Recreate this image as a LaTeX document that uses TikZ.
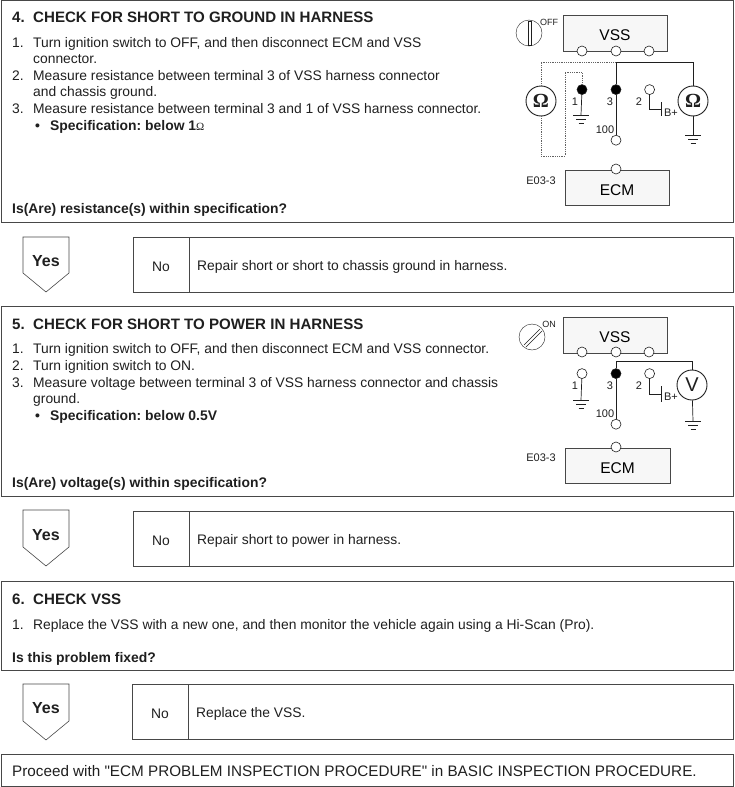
\documentclass[tikz,border=0pt]{standalone}
\usepackage{fontspec}
\setmainfont{Liberation Sans}
\newfontfamily\omegafont{Liberation Serif}
\newfontfamily\plainfont{Liberation Sans}
\frenchspacing
\usetikzlibrary{positioning,calc}
\definecolor{ink}{gray}{0.12}
\definecolor{edge}{gray}{0.28}
\newcommand{\unitname}[1]{\raisebox{-7.5pt}[0pt][0pt]{#1}}
\begin{document}
\begin{tikzpicture}[x=1pt,y=-1pt,font=\fontsize{13.85}{15}\selectfont,text=ink,
  panel/.style={draw=edge,line width=0.8pt},
  body/.style={anchor=base west,inner sep=0pt},
  head/.style={body,font=\fontsize{15.1}{17}\selectfont\bfseries},
  ask/.style={body,font=\fontsize{13.9}{15}\selectfont\bfseries},
  yes/.style={font=\fontsize{16}{17}\selectfont\bfseries,inner sep=0pt},
  unit/.style={draw=edge,fill=gray!6,line width=0.8pt,minimum width=104pt,minimum height=36pt,inner sep=0pt,text=black,font=\fontsize{15.5}{16}\selectfont},
  pin/.style={circle,draw=ink,fill=white,line width=0.6pt,minimum size=10pt,inner sep=0pt},
  dotpin/.style={pin,fill=black},
  meter/.style={circle,draw=ink,fill=white,line width=0.9pt,minimum size=30pt,inner sep=0pt,font=\fontsize{20}{21}\selectfont},
  tiny/.style={inner sep=0pt,font=\fontsize{11}{12}\selectfont},
  wire/.style={draw=ink,line width=0.7pt},
  probe/.style={draw=ink!70,line width=0.8pt,densely dotted},
  ground/.pic={\draw[wire] (-8,0)--(8,0) (-5,4)--(5,4) (-2.5,8)--(2.5,8);}]
\useasboundingbox (0,0) rectangle (734,787);
% outer boxes
\draw[panel] (1,0) rectangle (733,222);
\draw[panel] (1,306) rectangle (733,496);
\draw[panel] (1,581) rectangle (733,670);
\draw[panel] (1,754) rectangle (733,786);
% step 4
\node[head] (h4a) at (12,22) {4.};
\node[head] (h4b) at (33,22) {CHECK FOR SHORT TO GROUND IN HARNESS};
\node[body] (n4a) at (12,47) {1.};
\node[body] (t4a) at (33,47) {Turn ignition switch to OFF, and then disconnect ECM and VSS};
\node[body] (t4b) at (33,63) {connector.};
\node[body] (n4c) at (12,80) {2.};
\node[body] (t4c) at (33,80) {Measure resistance between terminal 3 of VSS harness connector};
\node[body] (t4d) at (33,96) {and chassis ground.};
\node[body] (n4e) at (12,113) {3.};
\node[body] (t4e) at (33,113) {Measure resistance between terminal 3 and 1 of VSS harness connector.};
\node[ask] (b4) at (35,130) {\textbullet};
\node[ask] (s4) at (50,130) {Specification: below 1{\omegafont\fontsize{11}{12}\selectfont\mdseries Ω}};
\node[ask] (q4) at (12,213) {Is(Are) resistance(s) within specification?};
% answer row 4
\draw[panel,line width=0.6pt] (23,237)--(69,237)--(69,273)--(46,292)--(23,273)--cycle;
\node[yes] (y4) at (46,261) {Yes};
\draw[panel,line width=0.6pt] (133,237) rectangle (733,292) (189,237)--(189,292);
\node[inner sep=0pt] (no4) at (161,267) {No};
\node[body] (r4) at (197,270) {Repair short or short to chassis ground in harness.};
% step 5
\node[head] (h5a) at (12,329) {5.};
\node[head] (h5b) at (33,329) {CHECK FOR SHORT TO POWER IN HARNESS};
\node[body] (n5a) at (12,353) {1.};
\node[body] (t5a) at (33,353) {Turn ignition switch to OFF, and then disconnect ECM and VSS connector.};
\node[body] (n5b) at (12,370) {2.};
\node[body] (t5b) at (33,370) {Turn ignition switch to ON.};
\node[body] (n5c) at (12,387) {3.};
\node[body] (t5c) at (33,387) {Measure voltage between terminal 3 of VSS harness connector and chassis};
\node[body] (t5d) at (33,403) {ground.};
\node[ask] (b5) at (35,420) {\textbullet};
\node[ask] (s5) at (50,420) {Specification: below 0.5V};
\node[ask] (q5) at (12,487) {Is(Are) voltage(s) within specification?};
% answer row 5
\draw[panel,line width=0.6pt] (23,510)--(69,510)--(69,547)--(46,566)--(23,547)--cycle;
\node[yes] (y5) at (46,535) {Yes};
\draw[panel,line width=0.6pt] (133,511) rectangle (733,566) (189,511)--(189,566);
\node[inner sep=0pt] (no5) at (161,541) {No};
\node[body] (r5) at (197,544) {Repair short to power in harness.};
% step 6
\node[head] (h6a) at (12,604) {6.};
\node[head] (h6b) at (33,604) {CHECK VSS};
\node[body] (n6a) at (12,629) {1.};
\node[body] (t6a) at (33,629) {Replace the VSS with a new one, and then monitor the vehicle again using a Hi-Scan (Pro).};
\node[ask] (q6) at (12,662) {Is this problem fixed?};
% answer row 6
\draw[panel,line width=0.6pt] (23,684)--(69,684)--(69,721)--(46,740)--(23,721)--cycle;
\node[yes] (y6) at (46,708) {Yes};
\draw[panel,line width=0.6pt] (132,684) rectangle (733,739) (188,684)--(188,739);
\node[inner sep=0pt] (no6) at (160,714) {No};
\node[body] (r6) at (196,717) {Replace the VSS.};
\node[body,font=\fontsize{15.25}{17}\selectfont\plainfont] (end) at (12,776) {Proceed with "ECM PROBLEM INSPECTION PROCEDURE" in BASIC INSPECTION PROCEDURE.};
% wiring for step 4
\node[unit] (vss4) at (615,33) {\unitname{VSS}};
\node[unit,minimum height=35pt] (ecm4) at (617,188) {\unitname{ECM}};
\node[pin] (a4) at (582,51) {};
\node[pin] (c4) at (616,51) {};
\node[pin] (e4) at (649,51) {};
\node[dotpin,below=28pt of c4] (k3) {};
\node[dotpin] (k1) at (k3-|a4) {};
\node[pin,right=23pt of k3] (k2) {};
\node[pin,below=40pt of k3] (k100) {};
\node[pin] (ke) at (616,169) {};
\node[meter] (ml) at (541,101) {\omegafont\bfseries Ω};
\node[meter] (mr) at (693,101) {\omegafont\bfseries Ω};
\node[tiny] (l1) at (575,102) {1};
\node[tiny] (l3) at (610,102) {3};
\node[tiny] (l2) at (639,102) {2};
\node[tiny] (l100) at (605,130) {100};
\node[tiny,font=\fontsize{9}{10}\selectfont] (off) at (549,22) {OFF};
\node[tiny] (tag4) at (541,181) {E03-3};
\node[tiny] (bp4) at (671,113) {B+};
\coordinate (g1) at (581,115);
\coordinate (g4) at (693,135);
\coordinate (t4) at (661,109);
\draw[wire] (k1)--(g1);
\pic at (g1) {ground};
\draw[wire] (k3)--(k100);
\draw[wire] (k2)|-(t4);
\draw[wire] ($(t4)+(0,-7)$)--($(t4)+(0,7)$);
\coordinate (top4) at (616,62);
\draw[wire] (k3)--(top4)-|(mr);
\draw[wire] (mr)--(g4);
\pic at (g4) {ground};
\draw[probe] (ml)|-(top4);
\draw[probe] (k1)|-(565,72)--(565,156)-|(ml);
\draw[draw=ink,line width=0.4pt,fill=white] (529,33) circle (13pt);
\draw[draw=ink,line width=0.5pt,fill=white] (528,21) rectangle (531,45);
% wiring for step 5
\node[unit] (vss5) at (615,335) {\unitname{VSS}};
\node[unit,minimum height=35pt,minimum width=105pt] (ecm5) at (617.5,465.5) {\unitname{ECM}};
\node[pin] (a5) at (582,352) {};
\node[pin] (c5) at (616,352) {};
\node[pin] (e5) at (649,352) {};
\node[dotpin,below=11pt of c5] (m3) {};
\node[pin] (m1) at (m3-|a5) {};
\node[pin,right=23pt of m3] (m2) {};
\node[pin,below=40pt of m3] (m100) {};
\node[pin] (me) at (616,447) {};
\node[meter] (mv) at (692,385) {V};
\node[tiny] (n1) at (575,386) {1};
\node[tiny] (n3) at (610,386) {3};
\node[tiny] (n2) at (639,386) {2};
\node[tiny] (n100) at (605,414) {100};
\node[tiny,font=\fontsize{9}{10}\selectfont] (on) at (549,324) {ON};
\node[tiny] (tag5) at (541,458) {E03-3};
\node[tiny] (bp5) at (671,397) {B+};
\coordinate (g2) at (581,400);
\coordinate (g5) at (693,421);
\coordinate (t5) at (661,394);
\draw[wire] (m1)--(g2);
\pic at (g2) {ground};
\draw[wire] (m3)--(m100);
\draw[wire] (m2)|-(t5);
\draw[wire] ($(t5)+(0,-8)$)--($(t5)+(0,8)$);
\coordinate (top5) at (616,361);
\draw[wire] (m3)--(top5)-|(mv);
\draw[wire] (mv)--(g5);
\pic at (g5) {ground};
\draw[draw=ink,line width=0.4pt,fill=white] (532,337) circle (13pt);
\draw[draw=ink,line width=0.5pt] (524,345)--(540,329) (526,347)--(542,331);
\end{tikzpicture}
\end{document}
